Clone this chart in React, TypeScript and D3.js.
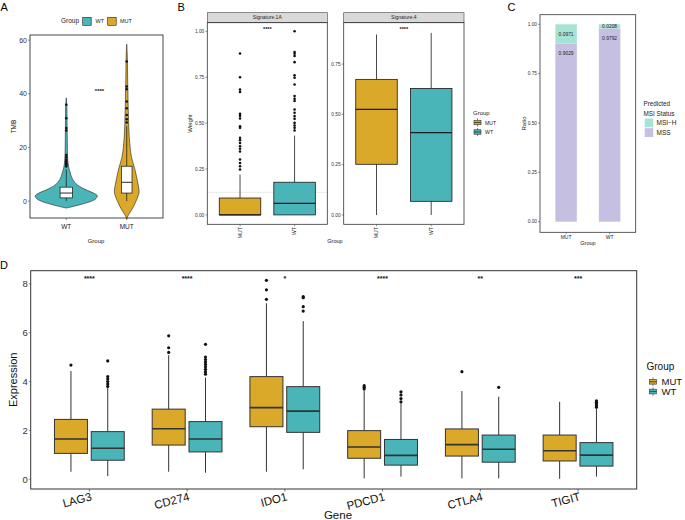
import React from "react";
import * as d3 from "d3";

const FONT = "Liberation Sans, Arial, Helvetica, sans-serif";
const C_MUT = "#DBA92A";
const C_WT = "#4AB5B9";
const C_MSIH = "#A6E3D4";
const C_MSS = "#C5BFE2";

// ---------- Panel A: TMB ----------
const groupsA = ["WT", "MUT"];
const tmbTicks = [0, 20, 40, 60];
// [lower whisker, q1, median, q3, upper whisker]
const tmbBoxWT = [0, 1.2, 3, 5.2, 11.8];
const tmbBoxMUT = [0, 3, 7, 13, 28];
const tmbOutWT = [12.9, 13.3, 13.8, 14.1, 14.8, 15.4, 16.3, 17.2, 26.3, 27.2, 30.9, 35.9];
const tmbOutMUT = [29.3, 30.5, 32.1, 34.6, 37.1, 41.7, 42.7, 52];
const violinWTVals = [-2.6, -2, -1, 0, 1, 2, 3, 4, 5, 6, 7, 8, 9, 10, 11, 12, 14, 16, 20, 25, 30, 35, 38.5];
const violinWTDens = [0, 0.22, 0.55, 0.82, 0.96, 1.0, 0.88, 0.68, 0.5, 0.36, 0.27, 0.21, 0.17, 0.14, 0.12, 0.09, 0.06, 0.045, 0.035, 0.03, 0.025, 0.02, 0];
const violinMUTVals = [-6.7, -5.5, -4, -2, 0, 2, 3.6, 6, 8.4, 10, 12, 14, 16, 18, 20, 24, 28, 32, 36, 40, 45, 50, 55, 58.5];
const violinMUTDens = [0, 0.04, 0.12, 0.22, 0.3, 0.37, 0.4, 0.37, 0.33, 0.3, 0.26, 0.21, 0.16, 0.13, 0.11, 0.08, 0.065, 0.055, 0.045, 0.04, 0.03, 0.025, 0.015, 0];

// ---------- Panel B: signatures ----------
const groupsB = ["MUT", "WT"];
const sig1ATicks = [0, 0.25, 0.5, 0.75, 1.0];
const sig4Ticks = [0, 0.25, 0.5, 0.75];
const sig1ABoxMUT = [0, 0, 0, 0.092, 0.22];
const sig1ABoxWT = [0, 0, 0.063, 0.178, 0.432];
const sig1AOutMUT = [0.247, 0.265, 0.283, 0.302, 0.345, 0.36, 0.374, 0.392, 0.407, 0.42, 0.474, 0.483, 0.525, 0.538, 0.55, 0.67, 0.683, 0.75, 0.879];
const sig1AOutWT = [0.46, 0.474, 0.487, 0.501, 0.523, 0.538, 0.556, 0.574, 0.62, 0.632, 0.647, 0.71, 0.747, 0.76, 0.832, 0.865, 0.878, 0.887, 1.0];
const sig1AHLine = 0.123;
const sig4BoxMUT = [0, 0.252, 0.525, 0.674, 0.897];
const sig4BoxWT = [0, 0.068, 0.409, 0.629, 0.905];

// ---------- Panel C: MSI ----------
const groupsC = ["MUT", "WT"];
const mssRatio = [0.9029, 0.9792];
const msihRatio = [0.0971, 0.0208];
const ratioTicks = [0, 0.25, 0.5, 0.75, 1.0];

// ---------- Panel D: expression ----------
const genes = ["LAG3", "CD274", "IDO1", "PDCD1", "CTLA4", "TIGIT"];
const exprTicks = [0, 2, 4, 6, 8];
const exprBoxMUT = [
  [0.31, 1.06, 1.65, 2.45, 4.43],
  [0.31, 1.4, 2.07, 2.87, 5.08],
  [0.31, 2.15, 2.93, 4.2, 7.2],
  [0.04, 0.86, 1.32, 1.99, 3.61],
  [0.04, 0.95, 1.42, 2.06, 3.61],
  [0.02, 0.75, 1.17, 1.81, 3.17],
];
const exprBoxWT = [
  [0.13, 0.78, 1.27, 1.95, 3.75],
  [0.27, 1.12, 1.65, 2.36, 4.16],
  [0.41, 1.92, 2.79, 3.79, 6.47],
  [0.11, 0.58, 0.98, 1.63, 3.11],
  [0.04, 0.7, 1.23, 1.81, 3.38],
  [0.11, 0.54, 0.99, 1.5, 2.9],
];
const exprOutMUT = [
  [4.67],
  [5.19, 5.38, 5.87],
  [7.36, 7.75, 8.14],
  [3.69, 3.76, 3.83],
  [4.4],
  [],
];
const exprOutWT = [
  [3.8, 3.9, 4.0, 4.1, 4.2, 4.84],
  [4.3, 4.4, 4.5, 4.6, 4.7, 4.8, 4.9, 5.0, 5.52],
  [6.88, 7.06, 7.43, 7.47],
  [3.17, 3.3, 3.45, 3.58],
  [3.76],
  [2.95, 3.02, 3.09, 3.15, 3.21],
];
const exprSig = ["****", "****", "*", "****", "**", "***"];
const exprSigY = 8.29;

type Scale = (v: number) => number;

function Box({ cx, w, s, y, fill, stroke = "#222", sw = 0.8, mw = 1.4 }: { cx: number; w: number; s: number[]; y: Scale; fill: string; stroke?: string; sw?: number; mw?: number }) {
  const [lo, q1, med, q3, hi] = s;
  return (
    <g>
      <line x1={cx} x2={cx} y1={y(lo)} y2={y(q1)} stroke={stroke} strokeWidth={sw} />
      <line x1={cx} x2={cx} y1={y(q3)} y2={y(hi)} stroke={stroke} strokeWidth={sw} />
      <rect x={cx - w / 2} y={y(q3)} width={w} height={y(q1) - y(q3)} fill={fill} stroke={stroke} strokeWidth={sw} />
      <line x1={cx - w / 2} x2={cx + w / 2} y1={y(med)} y2={y(med)} stroke={stroke} strokeWidth={mw} />
    </g>
  );
}

function KeyGlyph({ x, y, w, h, fill }: { x: number; y: number; w: number; h: number; fill: string }) {
  return (
    <g>
      <rect x={x} y={y} width={w} height={h} fill="#fff" />
      <line x1={x + w / 2} x2={x + w / 2} y1={y} y2={y + h} stroke="#333" strokeWidth={0.6} />
      <rect x={x + 0.5} y={y + h * 0.22} width={w - 1} height={h * 0.56} fill={fill} stroke="#333" strokeWidth={0.6} />
      <line x1={x + 0.5} x2={x + w - 0.5} y1={y + h / 2} y2={y + h / 2} stroke="#333" strokeWidth={0.8} />
    </g>
  );
}

function YAxis({ x, ticks, y, fmt, fs }: { x: number; ticks: number[]; y: Scale; fmt: (v: number) => string; fs: number }) {
  return (
    <g>
      {ticks.map((t) => (
        <g key={t}>
          <line x1={x - 2} x2={x} y1={y(t)} y2={y(t)} stroke="#333" strokeWidth={0.5} />
          <text x={x - 3} y={y(t)} dy="0.35em" textAnchor="end" fontSize={fs} fill="#333">{fmt(t)}</text>
        </g>
      ))}
    </g>
  );
}

export default function App() {
  // Panel A
  const aL = 30, aR = 163, aT = 35, aB = 218;
  const xA = d3.scalePoint<string>().domain(groupsA).range([aL, aR]).padding(0.6);
  const yA = d3.scaleLinear().domain([-6.3, 61.9]).range([aB, aT]);
  const wA = d3.scaleLinear().domain([0, 1]).range([0, 31]);
  const violin = (vals: number[], dens: number[], cx: number) =>
    d3.area<number>()
      .y((_, i) => yA(vals[i]))
      .x0((_, i) => cx - wA(dens[i]))
      .x1((_, i) => cx + wA(dens[i]))
      .curve(d3.curveCatmullRom)(vals.map((_, i) => i)) || "";
  const cWT = xA("WT")!, cMUT = xA("MUT")!;

  // Panel B
  const bT = 22.7, bB = 224.3;
  const f1L = 207.3, f1R = 327.3, f2L = 343.7, f2R = 464;
  const xB1 = d3.scalePoint<string>().domain(groupsB).range([f1L, f1R]).padding(0.6);
  const xB2 = d3.scalePoint<string>().domain(groupsB).range([f2L, f2R]).padding(0.6);
  const yB1 = d3.scaleLinear().domain([-0.0511, 1.0467]).range([bB, bT]);
  const yB2 = d3.scaleLinear().domain([-0.0462, 0.9556]).range([bB, bT]);
  const bw = 41.5;

  // Panel C
  const cL = 540, cR = 635.7, cT = 14.7, cB = 232.3;
  const xCp = d3.scalePoint<string>().domain(groupsC).range([cL, cR]).padding(0.6);
  const yC = d3.scaleLinear().domain([-0.05, 1.05]).range([221.7 + 0.05 * 197.4, 24.3 - 0.05 * 197.4]);
  const barW = 21.5;

  // Panel D
  const dL = 30.7, dR = 636.7, dT = 270.7, dB = 489;
  const xD = d3.scalePoint<string>().domain(genes).range([dL, dR]).padding(0.6);
  const yD = d3.scaleLinear().domain([0, 8]).range([479.3, 283.7]);
  const dOff = 18.4, dW = 33;

  const fmt2 = (v: number) => v.toFixed(2);

  return (
    <svg width={685} height={520} style={{ position: "absolute", left: 0, top: 0, background: "#fff" }} fontFamily={FONT}>
      <rect x={0} y={0} width={685} height={520} fill="#fff" />
      {/* Panel letters */}
      <text x={0.5} y={10.5} fontSize={11} fill="#000">A</text>
      <text x={177.5} y={10.5} fontSize={11} fill="#000">B</text>
      <text x={507.5} y={11} fontSize={11} fill="#000">C</text>
      <text x={0} y={268.5} fontSize={11} fill="#000">D</text>

      {/* ===== Panel A ===== */}
      <g>
        <text x={61} y={23.3} fontSize={6.5} fill="#222">Group</text>
        <rect x={82.7} y={17.3} width={8.5} height={8} fill={C_WT} stroke="#222" strokeWidth={0.6} />
        <text x={95.5} y={23.2} fontSize={5.5} fill="#222">WT</text>
        <rect x={107.7} y={17.3} width={8.5} height={8} fill={C_MUT} stroke="#222" strokeWidth={0.6} />
        <text x={120} y={23.2} fontSize={5.5} fill="#222">MUT</text>

        <path d={violin(violinWTVals, violinWTDens, cWT)} fill={C_WT} stroke="#222" strokeWidth={0.6} />
        <path d={violin(violinMUTVals, violinMUTDens, cMUT)} fill={C_MUT} stroke="#222" strokeWidth={0.6} />
        <Box cx={cWT} w={12.4} s={tmbBoxWT} y={yA} fill="#fff" stroke="#111" sw={0.7} mw={0.9} />
        <Box cx={cMUT} w={10.6} s={tmbBoxMUT} y={yA} fill="#fff" stroke="#111" sw={0.7} mw={0.9} />
        {tmbOutWT.map((v, i) => <circle key={"aw" + i} cx={cWT} cy={yA(v)} r={1.3} fill="#111" />)}
        {tmbOutMUT.map((v, i) => <circle key={"am" + i} cx={cMUT} cy={yA(v)} r={1.3} fill="#111" />)}
        <text x={(cWT + cMUT) / 2 + 3} y={93} fontSize={6} fontWeight="bold" textAnchor="middle" fill="#111">****</text>
        <rect x={aL} y={aT} width={aR - aL} height={aB - aT} fill="none" stroke="#333" strokeWidth={0.9} />
        <YAxis x={aL} ticks={tmbTicks} y={yA} fmt={(v) => String(v)} fs={7} />
        {groupsA.map((g) => (
          <g key={g}>
            <line x1={xA(g)!} x2={xA(g)!} y1={aB} y2={aB + 2} stroke="#333" strokeWidth={0.5} />
            <text x={xA(g)!} y={228.5} fontSize={6.5} textAnchor="middle" fill="#222">{g}</text>
          </g>
        ))}
        <text x={96} y={242.5} fontSize={6} textAnchor="middle" fill="#222">Group</text>
        <text transform={`translate(15.5,${(aT + aB) / 2}) rotate(-90)`} fontSize={6.5} textAnchor="middle" fill="#222">TMB</text>
      </g>

      {/* ===== Panel B ===== */}
      <g>
        {[["Signature.1A", f1L, f1R], ["Signature.4", f2L, f2R]].map(([lab, l, r]) => (
          <g key={lab as string}>
            <rect x={l as number} y={12.7} width={(r as number) - (l as number)} height={10} fill="#D9D9D9" stroke="#444" strokeWidth={0.6} />
            <text x={((l as number) + (r as number)) / 2} y={17.7} dy="0.35em" fontSize={5} textAnchor="middle" fill="#222">{lab as string}</text>
          </g>
        ))}
        <line x1={f1L} x2={f1R} y1={yB1(sig1AHLine)} y2={yB1(sig1AHLine)} stroke="#E3E3E3" strokeWidth={0.7} />
        <Box cx={xB1("MUT")!} w={bw} s={sig1ABoxMUT} y={yB1} fill={C_MUT} stroke="#1a1a1a" sw={0.8} mw={1.3} />
        <Box cx={xB1("WT")!} w={bw} s={sig1ABoxWT} y={yB1} fill={C_WT} stroke="#1a1a1a" sw={0.8} mw={1.3} />
        {sig1AOutMUT.map((v, i) => <circle key={"bm" + i} cx={xB1("MUT")!} cy={yB1(v)} r={1.3} fill="#111" />)}
        {sig1AOutWT.map((v, i) => <circle key={"bw" + i} cx={xB1("WT")!} cy={yB1(v)} r={1.3} fill="#111" />)}
        <Box cx={xB2("MUT")!} w={bw} s={sig4BoxMUT} y={yB2} fill={C_MUT} stroke="#1a1a1a" sw={0.8} mw={1.3} />
        <Box cx={xB2("WT")!} w={bw} s={sig4BoxWT} y={yB2} fill={C_WT} stroke="#1a1a1a" sw={0.8} mw={1.3} />
        <text x={(f1L + f1R) / 2} y={31} fontSize={5.5} fontWeight="bold" textAnchor="middle" fill="#111">****</text>
        <text x={(f2L + f2R) / 2} y={31} fontSize={5.5} fontWeight="bold" textAnchor="middle" fill="#111">****</text>
        <rect x={f1L} y={bT} width={f1R - f1L} height={bB - bT} fill="none" stroke="#333" strokeWidth={0.8} />
        <rect x={f2L} y={bT} width={f2R - f2L} height={bB - bT} fill="none" stroke="#333" strokeWidth={0.8} />
        <YAxis x={f1L} ticks={sig1ATicks} y={yB1} fmt={fmt2} fs={4.8} />
        <YAxis x={f2L} ticks={sig4Ticks} y={yB2} fmt={fmt2} fs={4.8} />
        {[xB1, xB2].map((sc, k) =>
          groupsB.map((g) => (
            <g key={k + g}>
              <line x1={sc(g)!} x2={sc(g)!} y1={bB} y2={bB + 2} stroke="#333" strokeWidth={0.5} />
              <text transform={`translate(${sc(g)!},${bB + 3}) rotate(-90)`} dy="0.35em" fontSize={5} textAnchor="end" fill="#222">{g}</text>
            </g>
          ))
        )}
        <text x={335} y={243} fontSize={5.5} textAnchor="middle" fill="#222">Group</text>
        <text transform={`translate(191.5,${(bT + bB) / 2}) rotate(-90)`} fontSize={6} textAnchor="middle" fill="#222">Weight</text>
        <text x={473} y={115} fontSize={6} fill="#222">Group</text>
        <KeyGlyph x={473.5} y={118.5} w={8} h={8} fill={C_MUT} />
        <text x={485} y={122.7} dy="0.35em" fontSize={5.2} fill="#222">MUT</text>
        <KeyGlyph x={473.5} y={128} w={8} h={8} fill={C_WT} />
        <text x={485} y={132.3} dy="0.35em" fontSize={5.2} fill="#222">WT</text>
      </g>

      {/* ===== Panel C ===== */}
      <g>
        {groupsC.map((g, i) => {
          const cx = xCp(g)!;
          const mTop = yC(mssRatio[i]);
          const hTop = yC(mssRatio[i] + msihRatio[i]);
          return (
            <g key={g}>
              <rect x={cx - barW / 2} y={mTop} width={barW} height={yC(0) - mTop} fill={C_MSS} />
              <rect x={cx - barW / 2} y={hTop} width={barW} height={mTop - hTop} fill={C_MSIH} />
              <text x={cx} y={(mTop + hTop) / 2} dy="0.35em" fontSize={4.9} textAnchor="middle" fill="#222">{msihRatio[i].toFixed(4)}</text>
              <text x={cx} y={mTop + 9.5} dy="0.35em" fontSize={4.9} textAnchor="middle" fill="#222">{mssRatio[i].toFixed(4)}</text>
            </g>
          );
        })}
        <rect x={cL} y={cT} width={cR - cL} height={cB - cT} fill="none" stroke="#333" strokeWidth={0.8} />
        <YAxis x={cL} ticks={ratioTicks} y={yC} fmt={fmt2} fs={4.8} />
        {groupsC.map((g) => (
          <g key={g}>
            <line x1={xCp(g)!} x2={xCp(g)!} y1={cB} y2={cB + 2} stroke="#333" strokeWidth={0.5} />
            <text x={xCp(g)!} y={239} fontSize={5} textAnchor="middle" fill="#222">{g}</text>
          </g>
        ))}
        <text x={588} y={245} fontSize={5.5} textAnchor="middle" fill="#222">Group</text>
        <text transform={`translate(525.5,${(cT + cB) / 2}) rotate(-90)`} fontSize={6} textAnchor="middle" fill="#222">Ratio</text>
        <text x={643.5} y={106} fontSize={6.3} fill="#222">Predicted</text>
        <text x={643.5} y={115.5} fontSize={6.3} fill="#222">MSI Status</text>
        <rect x={644.7} y={118.5} width={8.5} height={8.8} fill={C_MSIH} />
        <text x={656.5} y={123} dy="0.35em" fontSize={6.5} fill="#222">MSI−H</text>
        <rect x={644.7} y={128.2} width={8.5} height={8.8} fill={C_MSS} />
        <text x={656.5} y={132.7} dy="0.35em" fontSize={6.5} fill="#222">MSS</text>
      </g>

      {/* ===== Panel D ===== */}
      <g>
        {genes.map((g, i) => {
          const gx = xD(g)!;
          return (
            <g key={g}>
              <Box cx={gx - dOff} w={dW} s={exprBoxMUT[i]} y={yD} fill={C_MUT} stroke="#333" sw={1} mw={1.6} />
              <Box cx={gx + dOff} w={dW} s={exprBoxWT[i]} y={yD} fill={C_WT} stroke="#333" sw={1} mw={1.6} />
              {exprOutMUT[i].map((v, j) => <circle key={"m" + j} cx={gx - dOff} cy={yD(v)} r={1.6} fill="#111" />)}
              {exprOutWT[i].map((v, j) => <circle key={"w" + j} cx={gx + dOff} cy={yD(v)} r={1.6} fill="#111" />)}
              <text x={gx} y={yD(exprSigY) + 4.2} fontSize={7} fontWeight="bold" textAnchor="middle" fill="#111">{exprSig[i]}</text>
              <line x1={gx} x2={gx} y1={dB} y2={dB + 2.5} stroke="#333" strokeWidth={0.7} />
              <text transform={`translate(${gx + 3},${dB + 11}) rotate(-15)`} fontSize={11.5} textAnchor="end" fill="#111">{g}</text>
            </g>
          );
        })}
        <rect x={dL} y={dT} width={dR - dL} height={dB - dT} fill="none" stroke="#333" strokeWidth={1} />
        <YAxis x={dL} ticks={exprTicks} y={yD} fmt={(v) => String(v)} fs={9.5} />
        <text x={338} y={519} fontSize={11.5} textAnchor="middle" fill="#111">Gene</text>
        <text transform={`translate(17,${(dT + dB) / 2}) rotate(-90)`} fontSize={11} textAnchor="middle" fill="#111">Expression</text>
        <text x={646.5} y={370} fontSize={10} fill="#111">Group</text>
        <KeyGlyph x={649} y={377.5} w={8} h={8.5} fill={C_MUT} />
        <text x={661.5} y={381.7} dy="0.35em" fontSize={9.5} fill="#111">MUT</text>
        <KeyGlyph x={649} y={387.3} w={8} h={8.5} fill={C_WT} />
        <text x={661.5} y={391.5} dy="0.35em" fontSize={9.5} fill="#111">WT</text>
      </g>
    </svg>
  );
}
